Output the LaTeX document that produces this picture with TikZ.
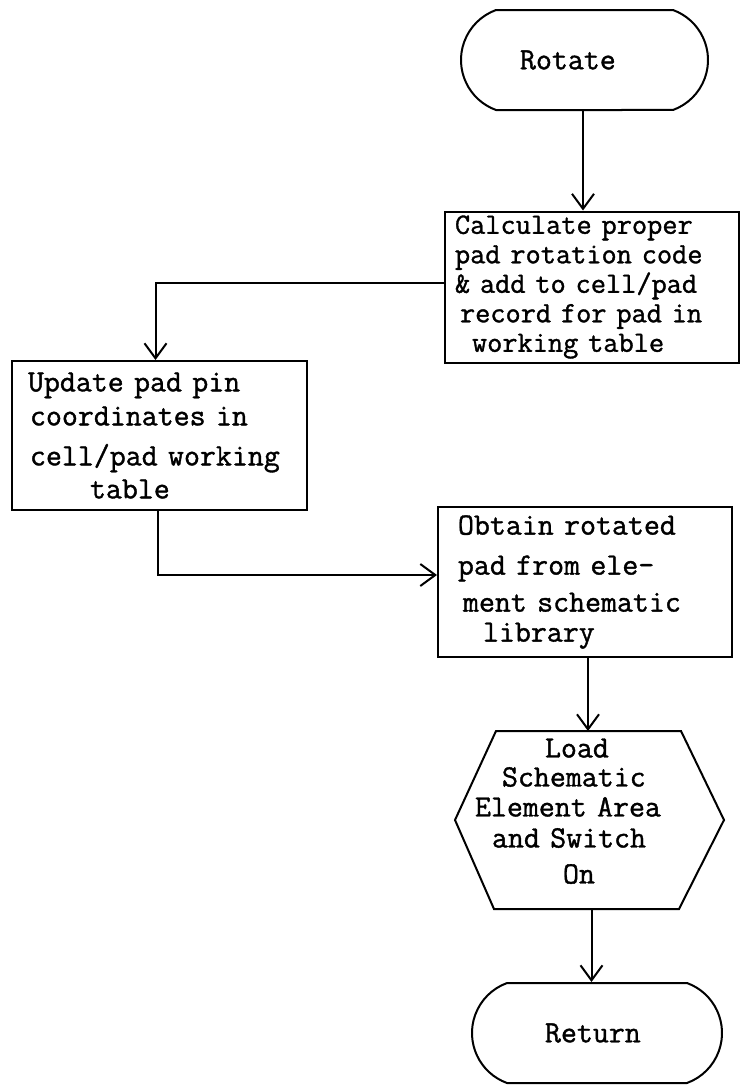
\documentclass[tikz,border=0pt]{standalone}
\usepackage{fontspec}
\usetikzlibrary{arrows.meta,shapes.misc,calc}
\newfontfamily\tw{Latin Modern Mono}[FakeBold=1.2]

\begin{document}
\begin{tikzpicture}[x=1bp,y=-1bp,
  line width=2bp,
  txt/.style={font=\tw\fontsize{31bp}{27bp}\selectfont},
  term/.style={txt,draw,rounded rectangle,rounded rectangle arc length=140,
    minimum width=#1,minimum height=100bp,inner sep=0pt},
  procbox/.style={txt,draw,rectangle,inner sep=0pt,align=left},
  arr/.style={-{Straight Barb[length=15bp,width=22bp]}}
]
\useasboundingbox (0,0) rectangle (740,1085);

% terminals
\node[term=247bp,text width=129bp,align=left] (rot) at (584.5,60) {Rotate};
\node[term=250bp,text width=104bp,align=left] (ret) at (597,1033) {Return};

% process boxes
\node[procbox,minimum width=294bp,minimum height=151bp,text width=274bp,
  font=\tw\fontsize{29.5bp}{29.5bp}\selectfont] (b1) at (592,287)
  {\mbox{Calculate proper}\\
   \mbox{pad rotation code}\\
   \mbox{\& add to cell/pad}\\
   \mbox{\hspace*{5bp}record for pad in}\\
   \mbox{\hspace*{17bp}working table}};

\node[procbox,minimum width=295bp,minimum height=149bp,text width=263bp,
  execute at begin node={\setlength{\baselineskip}{33bp}}] (b2) at (159.5,435.5)
  {\mbox{Update pad pin}\\[1bp]
   \mbox{\hspace*{2bp}coordinates in}\\[7bp]
   \mbox{\hspace*{2bp}cell/pad working}\\
   \mbox{\hspace*{62bp}table}};

\node[procbox,minimum width=294bp,minimum height=150bp,text width=254bp,
  execute at begin node={\setlength{\baselineskip}{30bp}}] (b3) at (585,582)
  {\mbox{Obtain rotated}\\[10bp]
   \mbox{pad from ele-}\\[7bp]
   \mbox{\hspace*{5bp}ment schematic}\\
   \mbox{\hspace*{25bp}library}};

% preparation hexagon: text node, outline drawn from its corners
\node[txt,rectangle,inner sep=0pt,align=left,minimum width=267bp,minimum height=176bp,
  text width=229bp,execute at begin node={\setlength{\baselineskip}{29bp}}] (hex) at (589.5,820)
  {\mbox{\hspace*{70bp}Load}\\
   \mbox{\hspace*{27bp}Schematic}\\[1bp]
   \mbox{Element Area}\\[2bp]
   \mbox{\hspace*{17bp}and Switch}\\[7bp]
   \mbox{\hspace*{88bp}On\rule[-18bp]{0pt}{0pt}}};
\draw ($(hex.north west)+(41,0)$) -- ($(hex.north east)+(-43,0)$) -- (hex.east)
  -- ($(hex.south east)+(-45,0)$) -- ($(hex.south west)+(39,0)$) -- (hex.west) -- cycle;

% connectors
\draw[arr] ([xshift=-1.5bp]rot.south) -- ([xshift=-1.5bp]rot.south |- b1.north);
\draw[arr] ([yshift=4bp]b1.west) -| ([xshift=-4bp]b2.north);
\draw[arr] ([xshift=-2bp]b2.south) |- ([yshift=7bp]b3.west);
\draw[arr] ([xshift=3bp]b3.south) -- ([xshift=3bp]b3.south |- hex.north);
\draw[arr] ([xshift=2bp]hex.south) -- ([xshift=2bp]hex.south |- ret.north);
\end{tikzpicture}
\end{document}
